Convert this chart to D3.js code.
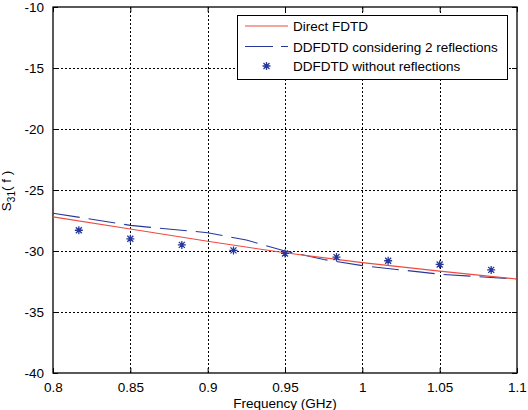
<!DOCTYPE html>
<html>
<head>
<meta charset="utf-8">
<script src="https://cdn.jsdelivr.net/npm/d3@7"></script>
<style>
  body { margin: 0; background: #fff; }
  text { font-family: "Liberation Sans", Arial, sans-serif; font-size: 13.5px; fill: #000; }
</style>
</head>
<body>
<svg id="canvas" width="528" height="410"></svg>
<script>
// ---- data ----
var freq_direct = [0.8, 0.85, 0.9, 0.95, 1.0, 1.05, 1.1];
var s31_direct  = [-27.2, -28.2, -29.2, -30.15, -30.95, -31.65, -32.3];

var freq_refl = [0.8, 0.85, 0.9, 0.925, 0.95, 0.975, 1.0, 1.05, 1.1];
var s31_refl  = [-26.9, -27.9, -28.5, -29.1, -30.0, -30.7, -31.2, -31.9, -32.3];

var freq_norefl = [0.8167, 0.85, 0.8833, 0.9167, 0.95, 0.9833, 1.0167, 1.05, 1.0833];
var s31_norefl  = [-28.3, -29.0, -29.5, -29.95, -30.2, -30.5, -30.8, -31.1, -31.55];

var x_ticks = [0.8, 0.85, 0.9, 0.95, 1, 1.05, 1.1];
var y_ticks = [-40, -35, -30, -25, -20, -15, -10];
var legend_labels = ["Direct FDTD", "DDFDTD considering 2 reflections", "DDFDTD without reflections"];

var red = "#ee4a3f", blue = "#26379b";

// ---- layout ----
var plot_left = 53, plot_right = 517, plot_top = 7, plot_bottom = 373;
var svg = d3.select('#canvas');

var xScale = d3.scaleLinear().domain([0.8, 1.1]).range([plot_left, plot_right]);
var yScale = d3.scaleLinear().domain([-40, -10]).range([plot_bottom, plot_top]);

// grid
var grid = svg.append('g').attr('stroke', '#000').attr('stroke-width', 1).attr('stroke-dasharray', '2,2');
x_ticks.slice(1, -1).forEach(function(t){
  grid.append('line').attr('x1', Math.round(xScale(t)) + 0.5).attr('x2', Math.round(xScale(t)) + 0.5)
    .attr('y1', plot_top).attr('y2', plot_bottom);
});
y_ticks.slice(1, -1).forEach(function(t){
  grid.append('line').attr('y1', Math.round(yScale(t)) + 0.5).attr('y2', Math.round(yScale(t)) + 0.5)
    .attr('x1', plot_left).attr('x2', plot_right);
});

// axes (matlab style: inward ticks on all sides)
var fmt = function(d){ return String(d); };
var xAxisB = d3.axisBottom(xScale).tickValues(x_ticks).tickFormat(fmt).tickSizeInner(-5).tickSizeOuter(0).tickPadding(9);
var xAxisT = d3.axisTop(xScale).tickValues(x_ticks).tickFormat('').tickSizeInner(-5).tickSizeOuter(0);
var yAxisL = d3.axisLeft(yScale).tickValues(y_ticks).tickFormat(fmt).tickSizeInner(-5).tickSizeOuter(0).tickPadding(9);
var yAxisR = d3.axisRight(yScale).tickValues(y_ticks).tickFormat('').tickSizeInner(-5).tickSizeOuter(0);

[[xAxisB, 'translate(0,' + plot_bottom + ')'], [xAxisT, 'translate(0,' + plot_top + ')'],
 [yAxisL, 'translate(' + plot_left + ',0)'], [yAxisR, 'translate(' + plot_right + ',0)']].forEach(function(a){
  var g = svg.append('g').attr('transform', a[1]).call(a[0]);
  g.select('.domain').remove();
  g.selectAll('line').attr('stroke', '#000');
  g.selectAll('text').style('fill', '#000');
});

// frame
svg.append('rect').attr('x', plot_left).attr('y', plot_top).attr('width', plot_right - plot_left).attr('height', plot_bottom - plot_top)
  .attr('fill', 'none').attr('stroke', '#000').attr('stroke-width', 1.3);

// series
var lineGen = d3.line().x(function(d){ return xScale(d[0]); }).y(function(d){ return yScale(d[1]); });
svg.append('path').datum(d3.zip(freq_refl, s31_refl)).attr('d', lineGen)
  .attr('fill', 'none').attr('stroke', blue).attr('stroke-width', 1.1).attr('stroke-dasharray', '27,9');
svg.append('path').datum(d3.zip(freq_direct, s31_direct)).attr('d', lineGen)
  .attr('fill', 'none').attr('stroke', red).attr('stroke-width', 1.1);

function star(g, cx, cy){
  var r = 4, q = 3;
  g.append('path')
    .attr('d', 'M' + (cx - r) + ',' + cy + 'H' + (cx + r) + 'M' + cx + ',' + (cy - r) + 'V' + (cy + r) +
      'M' + (cx - q) + ',' + (cy - q) + 'L' + (cx + q) + ',' + (cy + q) +
      'M' + (cx - q) + ',' + (cy + q) + 'L' + (cx + q) + ',' + (cy - q))
    .attr('stroke', blue).attr('stroke-width', 1.3).attr('fill', 'none');
}
var markers = svg.append('g');
freq_norefl.forEach(function(f, i){ star(markers, xScale(f), yScale(s31_norefl[i])); });

// axis labels
svg.append('text').attr('x', (plot_left + plot_right) / 2).attr('y', 408).attr('text-anchor', 'middle').text('Frequency (GHz)');
var yl = svg.append('text').attr('transform', 'translate(11,191) rotate(-90)').attr('text-anchor', 'middle');
yl.append('tspan').text('S');
yl.append('tspan').style('font-size', '10px').attr('dy', 4).text('31');
yl.append('tspan').attr('dy', -4).text('( f )');

// legend
var lg = svg.append('g');
lg.append('rect').attr('x', 237.5).attr('y', 15.5).attr('width', 270).attr('height', 64)
  .attr('fill', '#fff').attr('stroke', '#000').attr('stroke-width', 1);
var ly = [26, 46.5, 66];
lg.append('line').attr('x1', 245).attr('x2', 288).attr('y1', ly[0]).attr('y2', ly[0]).attr('stroke', red).attr('stroke-width', 1.1);
lg.append('line').attr('x1', 245).attr('x2', 288).attr('y1', ly[1]).attr('y2', ly[1]).attr('stroke', blue)
  .attr('stroke-width', 1.1).attr('stroke-dasharray', '28,8');
star(lg, 266.5, ly[2]);
legend_labels.forEach(function(s, i){
  lg.append('text').attr('x', 293).attr('y', ly[i] + 5).text(s);
});
</script>
</body>
</html>
